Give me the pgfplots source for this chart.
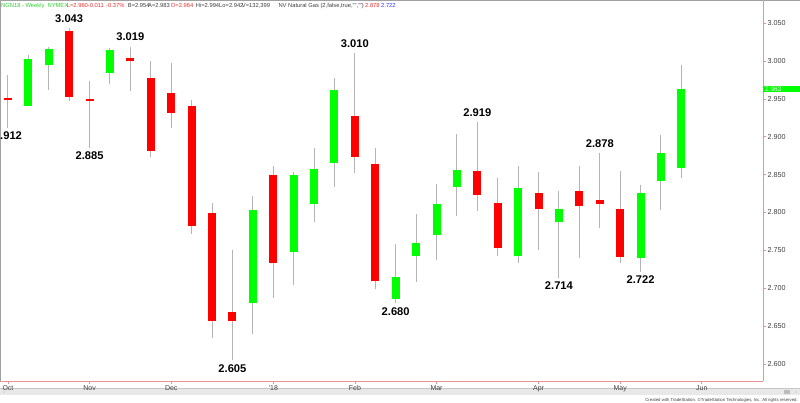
\documentclass[border=0pt]{standalone}
\usepackage{fontspec}
\setmainfont{Liberation Sans}
\usepackage{pgfplots}
\usepackage{pgfplotstable}
\pgfplotsset{compat=1.18}
\definecolor{cred}{HTML}{FF0000}
\definecolor{cgreen}{HTML}{00FF00}
\definecolor{wick}{HTML}{B4B4B4}
\definecolor{axred}{HTML}{E89494}
\definecolor{framegray}{HTML}{A0A0A0}
\definecolor{stripgray}{HTML}{E8E8E8}
\definecolor{txtgray}{HTML}{404040}
\definecolor{hdrgreen}{HTML}{33CC33}
\definecolor{hdrred}{HTML}{E83030}
\definecolor{hdrblue}{HTML}{3333FF}
\newcommand\lab{\fontsize{11.2}{13}\selectfont\bfseries}
\newcommand\hdr{\fontsize{5.8}{7}\selectfont}

\pgfplotstableread{
idx open high low close
0 2.951 2.981 2.912 2.948
3 3.039 3.043 2.947 2.953
4 2.950 2.973 2.885 2.947
6 3.004 3.019 2.960 3.000
7 2.977 3.000 2.873 2.881
8 2.958 2.997 2.912 2.931
9 2.941 2.948 2.772 2.782
10 2.800 2.813 2.635 2.657
11 2.669 2.750 2.605 2.657
13 2.850 2.861 2.687 2.734
17 2.927 3.010 2.852 2.873
18 2.864 2.885 2.699 2.709
23 2.855 2.919 2.802 2.823
24 2.812 2.845 2.742 2.753
26 2.826 2.853 2.751 2.804
28 2.829 2.861 2.740 2.808
29 2.817 2.878 2.780 2.811
30 2.805 2.855 2.734 2.741
}\redtab

\pgfplotstableread{
idx open high low close
1 2.941 3.008 2.940 3.003
2 2.994 3.018 2.962 3.016
5 2.984 3.017 2.969 3.014
12 2.681 2.822 2.640 2.803
14 2.748 2.853 2.705 2.850
15 2.811 2.885 2.787 2.858
16 2.865 2.977 2.834 2.961
19 2.686 2.759 2.680 2.715
20 2.743 2.798 2.708 2.760
21 2.770 2.838 2.737 2.811
22 2.834 2.904 2.795 2.856
25 2.742 2.862 2.734 2.832
27 2.788 2.828 2.714 2.805
31 2.740 2.836 2.722 2.826
32 2.841 2.902 2.803 2.879
33 2.859 2.994 2.845 2.963
}\greentab

\begin{document}
\begin{tikzpicture}[x=1bp,y=1bp]
\path[use as bounding box] (0,0) rectangle (800,402);
\fill[white] (0,0) rectangle (800,402);
\fill[stripgray] (0,7) rectangle (800,14);
\draw[framegray!60, line width=0.5bp] (0,14) -- (800,14);
\fill[framegray!70] (784,8.5) rectangle (790,12);
\fill[txtgray] (796,10) circle (0.4);
\fill[txtgray] (4,10) circle (0.4);
\draw[framegray, line width=1bp] (0,401.5) -- (800,401.5);
\begin{axis}[at={(0,27.5)}, anchor=south west, scale only axis,
  width=763bp, height=378bp,
  xmin=-0.39, xmax=37.0, ymin=2.5775, ymax=3.0762,
  axis line style={draw=none},
  clip=false,
  xtick={0,4,8,13,17,21,26,30,34},
  xticklabels={Oct,Nov,Dec,'18,Feb,Mar,Apr,May,Jun},
  ytick={2.60,2.65,2.70,2.75,2.80,2.85,2.90,2.95,3.00,3.05},
  xtick pos=bottom, ytick pos=right, yticklabel pos=right,
  tick align=outside, major tick length=3bp,
  tick style={draw=axred, line width=0.6bp},
  /pgf/number format/assume math mode=true,
  yticklabel={\pgfmathprintnumber[fixed,fixed zerofill,precision=3]{\tick}},
  yticklabel style={font=\fontsize{7.2}{8}\selectfont, text=txtgray, anchor=west, xshift=-2bp},
  xticklabel style={font=\fontsize{7}{8}\selectfont, text=txtgray, anchor=north, yshift=2bp},
]
% frame lines of the plot area
\draw[framegray, line width=1bp] ([xshift=0.5bp]rel axis cs:0,0) -- ([xshift=0.5bp]rel axis cs:0,1.1);
\draw[axred, line width=0.8bp] (rel axis cs:1,0) -- (rel axis cs:1,1.1);
\draw[axred, line width=0.8bp] (rel axis cs:0,0) -- (rel axis cs:1,0);
% wicks
\addplot[draw=none, mark=none, forget plot,
  error bars/.cd, y dir=plus, y explicit, error mark=none,
  error bar style={draw=wick, line width=1bp}]
  table[x=idx, y=low, y error expr=\thisrow{high}-\thisrow{low}] {\redtab};
\addplot[draw=none, mark=none, forget plot,
  error bars/.cd, y dir=plus, y explicit, error mark=none,
  error bar style={draw=wick, line width=1bp}]
  table[x=idx, y=low, y error expr=\thisrow{high}-\thisrow{low}] {\greentab};
% bodies
\addplot[draw=none, mark=none, forget plot,
  error bars/.cd, y dir=plus, y explicit, error mark=none,
  error bar style={draw=cred, line width=8bp}]
  table[x=idx, y=close, y error expr=\thisrow{open}-\thisrow{close}] {\redtab};
\addplot[draw=none, mark=none, forget plot,
  error bars/.cd, y dir=plus, y explicit, error mark=none,
  error bar style={draw=cgreen, line width=8bp}]
  table[x=idx, y=open, y error expr=\thisrow{close}-\thisrow{open}] {\greentab};
% annotations
\node[anchor=south, font=\lab, yshift=2.5bp] at (axis cs:3,3.043) {3.043};
\node[anchor=south, font=\lab, yshift=2bp] at (axis cs:6,3.019) {3.019};
\node[anchor=south, font=\lab, yshift=2bp] at (axis cs:17,3.010) {3.010};
\node[anchor=south, font=\lab, yshift=2bp] at (axis cs:23,2.919) {2.919};
\node[anchor=south, font=\lab, yshift=2bp] at (axis cs:29,2.878) {2.878};
\node[anchor=north, font=\lab, yshift=-0.6bp] at (axis cs:0,2.912) {2.912};
\node[anchor=north, font=\lab, yshift=-0.6bp] at (axis cs:4,2.885) {2.885};
\node[anchor=north, font=\lab, yshift=-0.8bp] at (axis cs:11,2.605) {2.605};
\node[anchor=north, font=\lab, yshift=-0.6bp] at (axis cs:19,2.680) {2.680};
\node[anchor=north, font=\lab, yshift=-0.6bp] at (axis cs:27,2.714) {2.714};
\node[anchor=north, font=\lab, yshift=-0.6bp] at (axis cs:31,2.722) {2.722};
% last price box
\node[anchor=west, fill=cgreen, text=white, inner xsep=2bp, inner ysep=0.6bp,
  text width=33bp, font=\fontsize{6.5}{7}\selectfont] at (axis cs:37.0,2.963) {2.963};
\end{axis}
% header
\begin{scope}[every node/.style={anchor=base west, inner sep=0pt, font=\hdr}]
\node[text=hdrgreen] at (1,394) {NGN18 - Weekly\ \ NYMEX};
\node[text=hdrred] at (66.7,394) {L=2.960};
\node[text=hdrred] at (87.7,394) {-0.011};
\node[text=hdrred] at (106,394) {-0.37\%};
\node[text=txtgray] at (127.7,394) {B=2.954};
\node[text=txtgray] at (148,394) {A=2.983};
\node[text=hdrred] at (170.7,394) {O=2.964};
\node[text=txtgray] at (195.7,394) {Hi=2.994};
\node[text=txtgray] at (219,394) {Lo=2.942};
\node[text=txtgray] at (241.7,394) {V=132,399};
\node[text=txtgray] at (278.3,394) {NV Natural Gas (2,false,true,"","")};
\node[text=hdrred] at (365,394) {2.878};
\node[text=hdrblue] at (381,394) {2.722};
\end{scope}
\node[anchor=base east, inner sep=0pt, font=\fontsize{4.3}{5}\selectfont, text=txtgray] at (798,1) {Created with TradeStation. ©TradeStation Technologies, Inc. All rights reserved.};
\end{tikzpicture}
\end{document}
